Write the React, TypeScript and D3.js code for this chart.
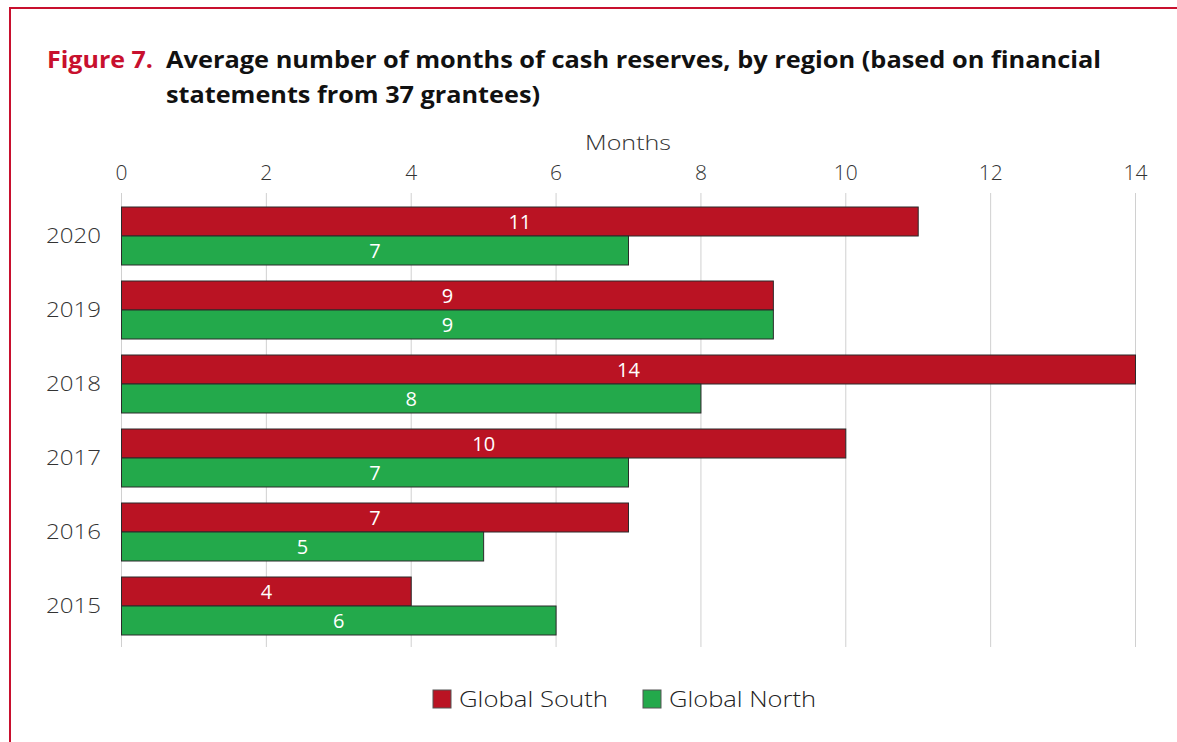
import React from "react";
import * as d3 from "d3";

const years = ["2020", "2019", "2018", "2017", "2016", "2015"];
const series = ["Global South", "Global North"];
const southValues = [11, 9, 14, 10, 7, 4];
const northValues = [7, 9, 8, 7, 5, 6];
const xTicks = [0, 2, 4, 6, 8, 10, 12, 14];
const colors = ["#ba1323", "#23a94b"];

const W = 1177;
const H = 742;
const FONT = "'Open Sans', 'DejaVu Sans', sans-serif";

export default function App() {
  const x = d3.scaleLinear().domain([0, 14]).range([121.5, 1135.5]);
  const y = d3
    .scaleBand<string>()
    .domain(years)
    .range([199, 643])
    .paddingInner(16 / 74)
    .paddingOuter(8 / 74);
  const sub = d3.scaleBand<string>().domain(series).range([0, y.bandwidth()]);
  const valuesBySeries = [southValues, northValues];
  const legendX = [433, 643];
  const legendLen = [149, 147];

  return (
    <svg width={W} height={H} style={{ position: "absolute", left: 0, top: 0, background: "#fff" }}>
      <rect x={0} y={0} width={W} height={H} fill="#fff" />
      {/* frame */}
      <path d={`M10,${H} L10,8 L${W},8`} fill="none" stroke="#c8102e" strokeWidth={2} />
      {/* title */}
      <text x={47} y={68} fontFamily={FONT} fontWeight={700} fontSize={23} fill="#c8102e" textLength={106} lengthAdjust="spacingAndGlyphs">
        Figure 7.
      </text>
      <text x={166} y={68} fontFamily={FONT} fontWeight={700} fontSize={23} fill="#111" textLength={935} lengthAdjust="spacingAndGlyphs">
        Average number of months of cash reserves, by region (based on financial
      </text>
      <text x={166} y={103} fontFamily={FONT} fontWeight={700} fontSize={23} fill="#111" textLength={374} lengthAdjust="spacingAndGlyphs">
        statements from 37 grantees)
      </text>
      {/* axis title */}
      <text x={585} y={150} fontFamily={FONT} fontWeight={300} fontSize={21} fill="#333" textLength={86} lengthAdjust="spacingAndGlyphs">
        Months
      </text>
      {/* grid + ticks */}
      {xTicks.map((t) => (
        <g key={t}>
          <line x1={x(t)} x2={x(t)} y1={193} y2={647} stroke="#d0d0d0" strokeWidth={1} />
          <text x={x(t)} y={180} textAnchor="middle" fontFamily={FONT} fontWeight={300} fontSize={21} fill="#333">
            {t}
          </text>
        </g>
      ))}
      {/* bars */}
      {years.map((yr, i) => (
        <g key={yr}>
          <text
            x={46}
            y={(y(yr) as number) + y.bandwidth() / 2}
            dy="0.35em"
            fontFamily={FONT}
            fontWeight={300}
            fontSize={21}
            fill="#333"
            textLength={55}
            lengthAdjust="spacingAndGlyphs"
          >
            {yr}
          </text>
          {series.map((s, j) => {
            const v = valuesBySeries[j][i];
            const by = (y(yr) as number) + (sub(s) as number);
            return (
              <g key={s}>
                <rect
                  x={x(0)}
                  y={by}
                  width={x(v) - x(0)}
                  height={sub.bandwidth()}
                  fill={colors[j]}
                  stroke="#2a2a2a"
                  strokeWidth={1}
                />
                <text
                  x={(x(0) + x(v)) / 2}
                  y={by + sub.bandwidth() / 2}
                  dy="0.36em"
                  textAnchor="middle"
                  fontFamily={FONT}
                  fontSize={20}
                  fill="#fff"
                >
                  {v}
                </text>
              </g>
            );
          })}
        </g>
      ))}
      {/* legend */}
      {series.map((s, j) => {
        const lx = legendX[j];
        return (
          <g key={s}>
            <rect x={lx} y={690} width={18} height={18} fill={colors[j]} stroke="#555" strokeWidth={1} />
            <text
              x={lx + 26}
              y={699}
              dy="0.36em"
              fontFamily={FONT}
              fontWeight={300}
              fontSize={22}
              fill="#222"
              textLength={legendLen[j]}
              lengthAdjust="spacingAndGlyphs"
            >
              {s}
            </text>
          </g>
        );
      })}
    </svg>
  );
}
